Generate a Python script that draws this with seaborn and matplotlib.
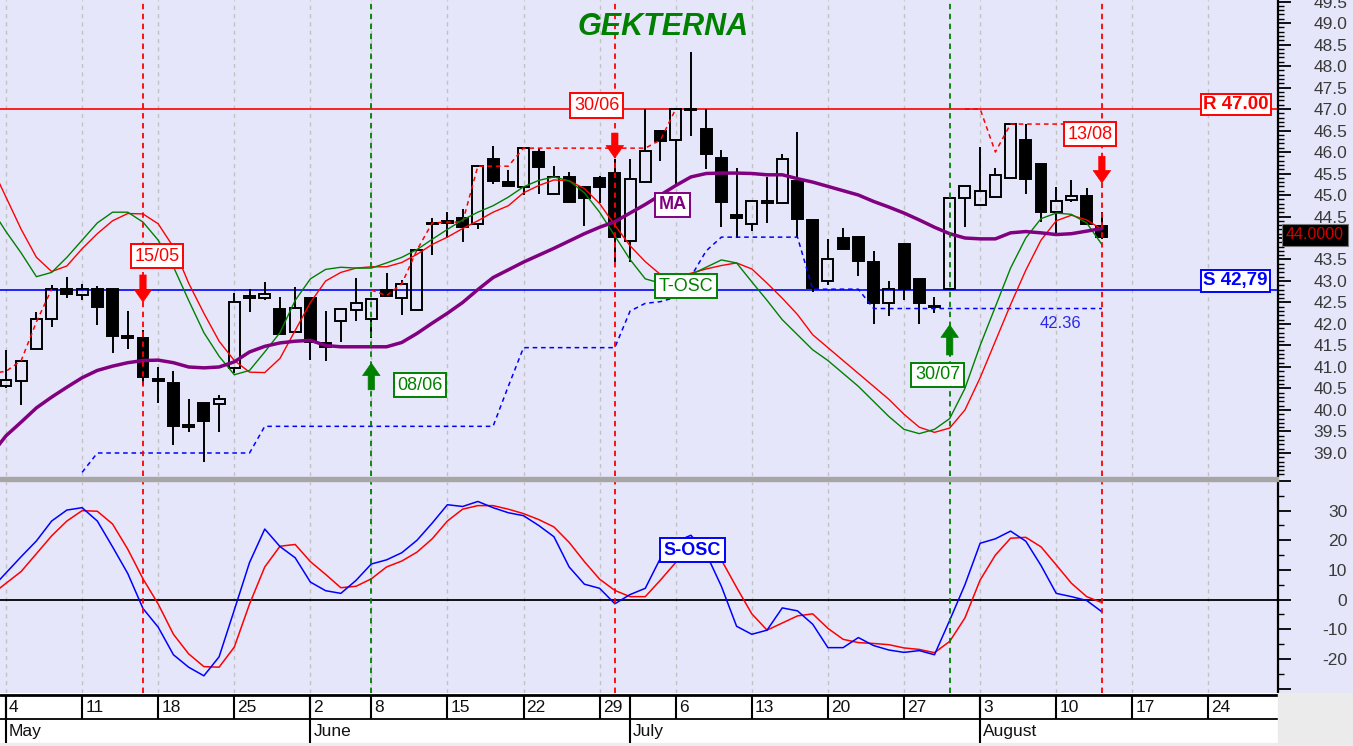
import numpy as np
import pandas as pd
import matplotlib
matplotlib.use("Agg")
import matplotlib.pyplot as plt
import matplotlib.transforms as mtransforms
from matplotlib.patches import Rectangle
from matplotlib.ticker import FuncFormatter
import seaborn as sns

sns.set_theme(style="white")
plt.rcParams['font.family'] = ['Liberation Sans', 'DejaVu Sans']

# ---------------- data ----------------
title = "GEKTERNA"

open_ = [40.55, 40.67, 41.42, 42.12, 42.81, 42.67, 42.81, 42.81, 41.72, 41.67,
         40.72, 40.63, 39.60, 40.16, 40.14, 40.98, 42.60, 42.60, 42.35, 41.81,
         42.60, 41.56, 42.07, 42.33, 42.12, 42.79, 42.60, 42.33, 44.33, 44.40,
         44.47, 44.33, 45.84, 45.30, 45.19, 46.00, 45.02, 45.42, 45.19, 45.40,
         45.51, 43.93, 45.30, 46.49, 46.28, 47.00, 46.53, 45.86, 44.53, 44.33,
         44.81, 44.81, 45.33, 44.42, 43.00, 44.00, 44.02, 43.44, 42.49, 43.86,
         43.05, 42.42, 42.81, 44.93, 44.77, 44.95, 45.40, 46.28, 45.72, 44.60,
         44.88, 44.98, 44.28]
high = [41.40, 41.14, 42.28, 42.90, 43.09, 42.93, 42.88, 42.81, 42.30, 41.85,
        41.00, 40.90, 40.25, 40.16, 40.35, 42.72, 42.81, 42.98, 42.63, 42.86,
        42.60, 42.30, 42.37, 43.07, 42.60, 43.19, 43.02, 43.72, 44.47, 44.60,
        44.67, 45.67, 46.14, 45.58, 46.09, 46.09, 45.67, 45.53, 45.19, 45.45,
        45.84, 45.84, 47.00, 46.50, 47.00, 48.33, 47.00, 46.05, 45.63, 44.86,
        45.42, 45.95, 46.47, 44.45, 43.98, 44.23, 44.02, 43.70, 43.00, 43.86,
        43.05, 42.63, 44.93, 45.21, 46.12, 45.63, 46.65, 46.65, 45.72, 45.19,
        45.35, 45.16, 44.60]
low = [40.50, 40.12, 41.42, 41.93, 42.60, 42.56, 41.98, 41.33, 41.42, 40.58,
       40.16, 39.19, 39.49, 38.80, 39.49, 40.86, 42.28, 42.56, 41.77, 41.81,
       41.16, 41.14, 41.58, 42.07, 41.67, 42.62, 42.21, 42.33, 43.60, 44.00,
       43.90, 44.21, 45.26, 45.21, 45.00, 45.02, 45.02, 44.84, 44.28, 44.81,
       43.44, 43.44, 45.30, 45.79, 45.26, 46.37, 45.60, 44.26, 44.00, 44.16,
       44.35, 44.81, 44.02, 42.74, 42.91, 43.74, 43.12, 42.00, 42.19, 42.56,
       42.00, 42.26, 42.81, 44.26, 44.77, 44.95, 45.40, 45.02, 44.37, 44.05,
       44.84, 44.33, 43.98]
close = [40.70, 41.14, 42.12, 42.81, 42.70, 42.81, 42.40, 41.72, 41.68, 40.77,
         40.68, 39.63, 39.65, 39.74, 40.26, 42.51, 42.65, 42.70, 41.77, 42.37,
         41.58, 41.47, 42.35, 42.49, 42.58, 42.65, 42.93, 43.72, 44.35, 44.35,
         44.26, 45.67, 45.33, 45.22, 46.09, 45.65, 45.42, 44.84, 44.93, 45.19,
         44.02, 45.37, 46.02, 46.26, 47.00, 46.98, 45.95, 44.84, 44.47, 44.86,
         44.86, 45.84, 44.44, 42.84, 43.51, 43.74, 43.47, 42.49, 42.81, 42.81,
         42.49, 42.40, 44.93, 45.21, 45.09, 45.47, 46.65, 45.37, 44.60, 44.86,
         44.98, 44.33, 44.02]

# indicator lines: trading-day index -1 .. 72
line_idx = list(range(-1, 73))
ma = [38.95, 39.40, 39.72, 40.05, 40.30, 40.53, 40.75, 40.92, 41.02, 41.10,
      41.15, 41.16, 41.10, 41.00, 40.98, 41.00, 41.12, 41.35, 41.48, 41.56,
      41.60, 41.62, 41.50, 41.47, 41.47, 41.47, 41.47, 41.57, 41.78, 42.02,
      42.25, 42.50, 42.80, 43.08, 43.26, 43.44, 43.60, 43.76, 43.93, 44.10,
      44.25, 44.38, 44.58, 44.78, 45.00, 45.22, 45.42, 45.50, 45.51, 45.51,
      45.50, 45.47, 45.47, 45.38, 45.30, 45.20, 45.10, 45.00, 44.85, 44.72,
      44.58, 44.42, 44.25, 44.10, 44.00, 43.98, 43.98, 44.12, 44.15, 44.12,
      44.08, 44.10, 44.16, 44.22]
tosc_red = [45.70, 44.95, 44.20, 43.55, 43.22, 43.35, 43.75, 44.10, 44.40, 44.57,
            44.56, 44.33, 43.79, 42.95, 42.25, 41.60, 41.15, 40.88, 40.87, 41.20,
            41.85, 42.50, 43.00, 43.20, 43.30, 43.33, 43.33, 43.43, 43.62, 43.85,
            44.02, 44.22, 44.40, 44.60, 44.75, 45.05, 45.22, 45.35, 45.33, 45.15,
            44.80, 44.30, 43.82, 43.45, 43.15, 43.10, 43.18, 43.28, 43.36, 43.42,
            43.28, 42.95, 42.60, 42.22, 41.75, 41.45, 41.15, 40.85, 40.55, 40.25,
            39.90, 39.60, 39.48, 39.58, 40.00, 40.75, 41.60, 42.45, 43.25, 43.95,
            44.40, 44.53, 44.42, 44.20]
tosc_green = [44.70, 44.15, 43.65, 43.10, 43.20, 43.55, 43.95, 44.35, 44.60, 44.60,
              44.37, 43.95, 43.33, 42.55, 41.80, 41.25, 40.82, 40.92, 41.35, 41.80,
              42.55, 43.05, 43.27, 43.32, 43.30, 43.30, 43.42, 43.55, 43.73, 43.97,
              44.20, 44.42, 44.60, 44.75, 44.95, 45.19, 45.34, 45.42, 45.33, 45.05,
              44.60, 44.05, 43.50, 43.05, 42.95, 43.00, 43.15, 43.32, 43.49, 43.42,
              42.98, 42.55, 42.10, 41.75, 41.40, 41.15, 40.85, 40.55, 40.20, 39.85,
              39.55, 39.45, 39.55, 39.80, 40.50, 41.50, 42.40, 43.30, 44.00, 44.45,
              44.58, 44.55, 44.35, 43.85]
sosc_blue = [3.5, 9.0, 14.5, 19.8, 26.5, 30.2, 31.0, 26.5, 17.8, 8.8,
             -3.0, -9.3, -18.6, -22.8, -25.7, -19.3, -3.5, 12.5, 23.8, 17.9,
             14.1, 5.9, 3.0, 2.1, 6.5, 12.0, 13.4, 15.8, 20.0, 25.8,
             32.0, 31.4, 33.1, 31.0, 29.3, 28.3, 25.0, 21.2, 11.0, 5.2,
             3.8, -1.4, 1.7, 3.8, 14.0, 19.5, 21.7, 15.5, 4.5, -9.0,
             -11.7, -10.3, -2.8, -3.8, -8.3, -16.2, -16.2, -12.8, -15.5, -17.0,
             -17.8, -17.2, -18.6, -7.0, 5.0, 19.0, 20.5, 23.1, 19.7, 11.5,
             2.1, 1.0, -0.3, -4.1]
sosc_red = [1.5, 5.5, 9.5, 15.5, 21.5, 26.5, 30.0, 29.8, 25.5, 17.0,
            7.0, -1.5, -11.7, -18.3, -22.6, -22.8, -16.0, -1.5, 11.0, 18.0,
            18.6, 12.8, 8.5, 4.0, 4.5, 7.0, 11.0, 13.0, 16.0, 20.5,
            26.5, 30.5, 31.7, 31.7, 30.5, 29.0, 27.0, 24.5, 19.3, 12.8,
            6.9, 3.1, 1.0, 1.0, 6.6, 12.5, 16.5, 16.8, 13.4, 4.1,
            -4.8, -10.3, -7.9, -5.5, -4.8, -9.7, -13.4, -14.5, -14.8, -15.2,
            -16.3, -16.8, -17.9, -14.1, -6.2, 6.6, 15.0, 20.7, 21.0, 17.8,
            11.7, 5.5, 1.0, -1.0]

# trailing stop (blue dashed), index 5..72
stop_idx = list(range(5, 73))
stop_blue = [38.55, 39.00, 39.00, 39.00, 39.00, 39.00, 39.00, 39.00, 39.00, 39.00,
             39.00, 39.00, 39.62, 39.62, 39.62, 39.62, 39.62, 39.62, 39.62, 39.62,
             39.62, 39.62, 39.62, 39.62, 39.62, 39.62, 39.62, 39.62, 40.55, 41.45,
             41.45, 41.45, 41.45, 41.45, 41.45, 41.45, 42.30, 42.48, 42.52, 42.62,
             43.10, 43.70, 44.02, 44.02, 44.02, 44.02, 44.02, 44.02, 42.81, 42.81,
             42.81, 42.81, 42.36, 42.36, 42.36, 42.36, 42.36, 42.36, 42.36, 42.36,
             42.36, 42.36, 42.36, 42.36, 42.36, 42.36, 42.36, 42.36]
# red dashed tracking line, three segments
track_a_idx = [-1, 0, 1, 2, 3]
track_a = [40.85, 40.90, 41.15, 42.05, 42.81]
track_b_idx = list(range(24, 45))
track_b = [42.79, 42.66, 42.93, 43.72, 44.35, 44.37, 44.37, 45.67, 45.67, 45.67,
           46.09, 46.09, 46.09, 46.09, 46.09, 46.09, 46.09, 46.09, 46.09, 46.28, 47.00]
track_c_idx = [63, 64, 65, 66, 67, 68, 69, 70]
track_c = [47.00, 47.00, 46.00, 46.65, 46.65, 46.65, 46.65, 46.65]

resistance = 47.00
support = 42.79
last_price = 44.00
stop_label = 42.36

sell_idx = [9, 40, 72]
sell_labels = ["15/05", "30/06", "13/08"]
buy_idx = [24, 62]
buy_labels = ["08/06", "30/07"]

week_idx = [0, 5, 10, 15, 20, 24, 29, 34, 39, 44, 49, 54, 59, 64, 69, 74, 79]
week_labels = ["4", "11", "18", "25", "2", "8", "15", "22", "29", "6", "13",
               "20", "27", "3", "10", "17", "24"]
month_idx = [0, 20, 41, 64]
month_labels = ["May", "June", "July", "August"]

price_ticks = [39.0, 39.5, 40.0, 40.5, 41.0, 41.5, 42.0, 42.5, 43.0, 43.5, 44.0,
               44.5, 45.0, 45.5, 46.0, 46.5, 47.0, 47.5, 48.0, 48.5, 49.0, 49.5]
osc_ticks = [-30, -20, -10, 0, 10, 20, 30, 40]
osc_labelled = [-20, -10, 0, 10, 20, 30]

# ---------------- layout ----------------
W, H = 1353, 746
BG = '#E6E6FA'
PLOT_R = 1278
fig = plt.figure(figsize=(W / 100, H / 100), dpi=100, facecolor=BG)


def fx(px):
    return px / W


def fy(py):
    return 1 - py / H


ax1 = fig.add_axes([0, fy(476), fx(PLOT_R), 476 / H])
ax2 = fig.add_axes([0, fy(693), fx(PLOT_R), (693 - 481) / H])
ax3 = fig.add_axes([0, 0, fx(PLOT_R), 53 / H])

XMIN, XMAX = -0.394, 83.57
Y1 = (38.465, 49.535)
Y2 = (-31.5, 39.6)

for ax in (ax1, ax2):
    ax.set_facecolor(BG)

# grid (weekly dashed)
ax1.vlines(week_idx, Y1[0], Y1[1], colors='#C2C2C2', linestyles=(0, (3, 3)), lw=1.0, zorder=1)
ax2.vlines(week_idx, Y2[0], Y2[1], colors='#C2C2C2', linestyles=(0, (3, 3)), lw=1.0, zorder=1)

# support / resistance
ax1.axhline(resistance, color='#FF0000', lw=1.2, zorder=2)
ax1.axhline(support, color='#0000FF', lw=1.2, zorder=2)

# candles
o = np.array(open_)
c = np.array(close)
h = np.array(high)
l = np.array(low)
bidx = np.arange(len(c))
up = c >= o
body_lo = np.minimum(o, c)
body_hi = np.maximum(o, c)
ax1.vlines(bidx, body_hi, h, color='black', lw=1.4, zorder=3)
ax1.vlines(bidx, l, body_lo, color='black', lw=1.4, zorder=3)
ax1.bar(bidx, np.maximum(body_hi - body_lo, 0.015), bottom=body_lo, width=0.72,
        color=['none' if u else 'black' for u in up], edgecolor='black',
        linewidth=1.4, zorder=3)

# stop lines
ax1.plot(stop_idx, stop_blue, color='#0000FF', lw=1.1, ls=(0, (3, 2.5)), zorder=4)
for xi, yi in ((track_a_idx, track_a), (track_b_idx, track_b), (track_c_idx, track_c)):
    ax1.plot(xi, yi, color='#FF0000', lw=1.1, ls=(0, (3, 2.5)), zorder=4)

# indicator lines
sns.lineplot(x=line_idx, y=tosc_red, ax=ax1, color='#FF0000', linewidth=1.0, zorder=5)
sns.lineplot(x=line_idx, y=tosc_green, ax=ax1, color='#008000', linewidth=1.0, zorder=5)
sns.lineplot(x=line_idx, y=ma, ax=ax1, color='#800080', linewidth=2.5, zorder=6)

sns.lineplot(x=line_idx, y=sosc_red, ax=ax2, color='#FF0000', linewidth=1.1, zorder=5)
sns.lineplot(x=line_idx, y=sosc_blue, ax=ax2, color='#0000FF', linewidth=1.1, zorder=5)
ax2.axhline(0, color='black', lw=1.3, zorder=4)

# signal vertical lines
for i in sell_idx:
    ax1.axvline(i, color='#FF0000', lw=1.3, ls=(0, (3, 2.5)), zorder=6)
    ax2.axvline(i, color='#FF0000', lw=1.3, ls=(0, (3, 2.5)), zorder=6)
for i in buy_idx:
    ax1.axvline(i, color='#008000', lw=1.3, ls=(0, (3, 2.5)), zorder=6)
    ax2.axvline(i, color='#008000', lw=1.3, ls=(0, (3, 2.5)), zorder=6)


def arrow(ax, x, tail, tip, color):
    ax.annotate('', xy=(x, tip), xytext=(x, tail),
                arrowprops=dict(arrowstyle='simple,head_length=0.75,head_width=1.05,tail_width=0.38',
                                fc=color, ec=color, lw=0.5, shrinkA=0, shrinkB=0,
                                mutation_scale=12),
                zorder=9)


arrow(ax1, sell_idx[0], 43.14, 42.51, '#FF0000')
arrow(ax1, sell_idx[1], 46.44, 45.86, '#FF0000')
arrow(ax1, sell_idx[2], 45.90, 45.28, '#FF0000')
arrow(ax1, buy_idx[0], 40.47, 41.09, '#008000')
arrow(ax1, buy_idx[1], 41.28, 41.98, '#008000')


def boxed(ax, x, y, s, color, size=13, weight='normal', pad=0.2):
    ax.text(x, y, s, ha='center', va='center', color=color, fontsize=size,
            fontweight=weight, zorder=10,
            bbox=dict(boxstyle='square,pad=%s' % pad, fc='white', ec=color, lw=1.4))


boxed(ax1, 9.92, 43.58, sell_labels[0], '#FF0000')
boxed(ax1, 38.8, 47.08, sell_labels[1], '#FF0000')
boxed(ax1, 71.2, 46.41, sell_labels[2], '#FF0000')
boxed(ax1, 27.2, 40.58, buy_labels[0], '#008000')
boxed(ax1, 61.2, 40.82, buy_labels[1], '#008000')
boxed(ax1, 43.8, 44.77, "MA", '#800080', weight='bold')
boxed(ax1, 44.7, 42.88, "T-OSC", '#008000')
boxed(ax2, 45.1, 16.6, "S-OSC", '#0000FF', weight='bold')
boxed(ax1, 80.8, 47.10, "R %.2f" % resistance, '#FF0000', size=13.5, weight='bold', pad=0.12)
boxed(ax1, 80.75, 43.00, ("S %.2f" % support).replace('.', ','), '#0000FF', size=13.5,
      weight='bold', pad=0.12)
ax1.text(69.25, 42.0, "%.2f" % stop_label, ha='center', va='center', color='#2828F0',
         fontsize=12, zorder=10)

trans = mtransforms.blended_transform_factory(ax1.transAxes, ax1.transData)
ax1.text(1286 / PLOT_R, 44.07, "%.4f" % last_price, transform=trans, ha='left', va='center',
         color='#D40000', fontsize=11.5, clip_on=False, zorder=12,
         bbox=dict(boxstyle='square,pad=0.22', fc='black', ec='#777777', lw=0.8))

# axes styling
for ax, ylim in ((ax1, Y1), (ax2, Y2)):
    ax.set_xlim(XMIN, XMAX)
    ax.set_ylim(*ylim)
    ax.set_xlabel('')
    ax.set_ylabel('')
    for sp in ('left', 'top', 'bottom'):
        ax.spines[sp].set_visible(False)
    ax.spines['right'].set_visible(True)
    ax.spines['right'].set_color('black')
    ax.spines['right'].set_linewidth(1.6)
    ax.tick_params(axis='x', which='both', bottom=False, top=False, labelbottom=False)

ax1.set_yticks(price_ticks)
ax1.set_yticks(np.round(np.arange(38.5, 49.55, 0.1), 1), minor=True)
# the 44.0 label sits under the last-price box
ax1.yaxis.set_major_formatter(FuncFormatter(
    lambda v, p: "" if abs(v - last_price) < 0.01 else "%.1f" % v))
ax2.set_yticks(osc_ticks)
ax2.set_yticks(list(range(-30, 41, 5)), minor=True)
ax2.yaxis.set_major_formatter(FuncFormatter(lambda v, p: ("%d" % v) if int(round(v)) in osc_labelled else ""))

for ax in (ax1, ax2):
    ax.tick_params(axis='y', which='both', left=False, right=True, labelleft=False,
                   labelright=True, direction='out', color='black')
    ax.tick_params(axis='y', which='major', length=9, width=1.3, pad=41, labelsize=12.5,
                   labelcolor='#3A3A3A')
    ax.tick_params(axis='y', which='minor', length=4, width=1.0)
    for t in ax.yaxis.get_major_ticks():
        t.label2.set_horizontalalignment('right')

# date strip
ax3.set_facecolor('white')
ax3.set_xlim(XMIN, XMAX)
ax3.set_ylim(0, 53)
for sp in ax3.spines.values():
    sp.set_visible(False)
ax3.set_xticks([])
ax3.set_yticks([])
ax3.fill_between([XMIN, XMAX], 0, 3.5, color='#EDEDED', zorder=1)
ax3.axhline(51, color='black', lw=2.0, zorder=3)
ax3.axhline(27, color='black', lw=1.3, zorder=3)
ax3.vlines(week_idx, 27, 51, colors='black', lw=1.5, zorder=3)
ax3.vlines(month_idx, 3.5, 51, colors='black', lw=1.5, zorder=3)
for i, s in zip(week_idx, week_labels):
    ax3.text(i + 0.2, 38.5, s, ha='left', va='center', fontsize=12.5, color='#111111', zorder=4,
             family=['Liberation Sans Narrow', 'Liberation Sans', 'DejaVu Sans'])
for i, s in zip(month_idx, month_labels):
    ax3.text(i + 0.2, 14.5, s, ha='left', va='center', fontsize=12.5, color='#111111', zorder=4,
             family=['Liberation Sans Narrow', 'Liberation Sans', 'DejaVu Sans'])

# figure-level pieces
fig.patches.append(Rectangle((0, fy(481)), fx(PLOT_R), 4 / H, transform=fig.transFigure,
                             color='#A6A6A6', zorder=0))
fig.patches.append(Rectangle((fx(PLOT_R), 0), 1 - fx(PLOT_R), 53 / H, transform=fig.transFigure,
                             color='#EBEBEB', zorder=0))
fig.text(fx(663), fy(35), title, ha='center', va='baseline', fontsize=22,
         fontweight='bold', fontstyle='italic', color='#008000')

fig.savefig('out.png', dpi=100, facecolor=fig.get_facecolor())
